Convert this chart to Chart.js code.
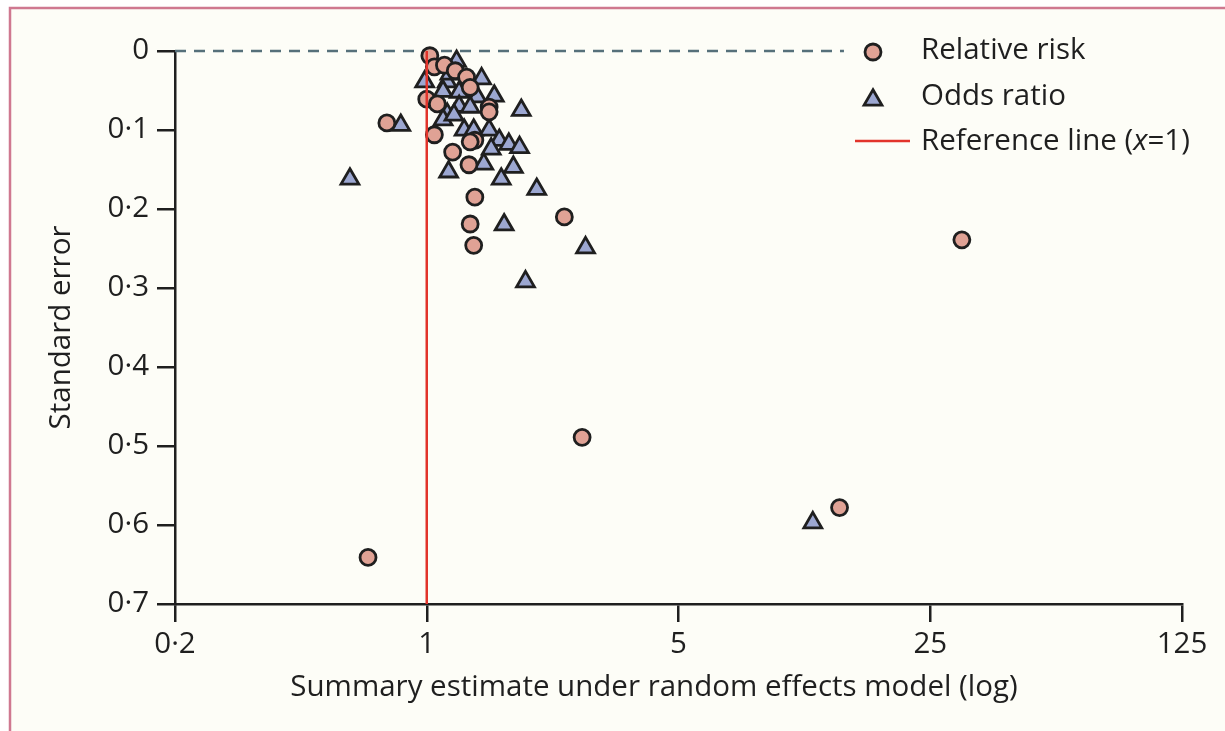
<!DOCTYPE html>
<html>
<head>
<meta charset="utf-8">
<title>Funnel plot</title>
<script src="https://cdn.jsdelivr.net/npm/chart.js@4/dist/chart.umd.min.js"></script>
<style>
  html, body { margin: 0; padding: 0; background: #ffffff; }
  #funnel { display: block; }
</style>
</head>
<body>
<canvas id="funnel" width="1225" height="731"></canvas>
<script>
// Funnel plot: summary estimate (log) vs standard error

// Relative risk studies
const rrEstimate = [1.02, 1.05, 1.12, 1.20, 1.29, 1.32, 1.00, 1.07, 1.49, 1.49, 0.775, 1.05,
  1.36, 1.32, 1.18, 1.31, 1.36, 2.41, 1.32, 1.35, 30.6, 2.70, 14.0, 0.687];
const rrStdError = [0.006, 0.020, 0.018, 0.025, 0.033, 0.046, 0.061, 0.067, 0.071, 0.077, 0.091, 0.106,
  0.113, 0.115, 0.128, 0.144, 0.185, 0.210, 0.219, 0.246, 0.239, 0.489, 0.578, 0.641];

// Odds ratio studies
const orEstimate = [1.21, 0.987, 1.14, 1.42, 1.11, 1.23, 1.38, 1.54, 1.23, 1.32, 1.83, 1.14,
  1.11, 1.19, 0.847, 1.27, 1.35, 1.49, 1.59, 1.69, 1.81, 1.51, 1.44, 1.74,
  1.15, 1.61, 2.02, 0.612, 1.64, 2.76, 1.88, 11.8, 1.16];
const orStdError = [0.013, 0.039, 0.039, 0.035, 0.051, 0.052, 0.058, 0.057, 0.070, 0.071, 0.075, 0.080,
  0.087, 0.081, 0.094, 0.100, 0.100, 0.100, 0.113, 0.118, 0.122, 0.124, 0.143, 0.147,
  0.153, 0.162, 0.175, 0.162, 0.220, 0.249, 0.292, 0.597, 0.029];

const xTicks = [0.2, 1, 5, 25, 125];
const yTicks = [0, 0.1, 0.2, 0.3, 0.4, 0.5, 0.6, 0.7];
const refX = 1;
const dashEnd = 14.4;

const INK = '#1f1f1f';
const RR_FILL = '#e0a295';
const OR_FILL = '#9ca7d1';
const RED = '#e2342b';
const FONT = '"Open Sans", "Noto Sans", sans-serif';
const FONT_SIZE = 29.5;
const CIRCLE_R = 8;
const TRI_R = 10.3;
const MARK_W = 2.8;

function fmt(v) {
  if (v === 0) return '0';
  return String(Math.round(v * 10) / 10).replace('.', '·');
}

const zip = (xs, ys) => xs.map((x, i) => ({ x, y: ys[i] }));

// background + pink frame
const framePlugin = {
  id: 'frame',
  beforeDraw(chart) {
    const ctx = chart.ctx;
    ctx.save();
    ctx.fillStyle = '#ffffff';
    ctx.fillRect(0, 0, chart.width, chart.height);
    ctx.fillStyle = '#fdfdf7';
    ctx.fillRect(10, 8, chart.width, chart.height);
    ctx.strokeStyle = '#cf7890';
    ctx.lineWidth = 2.5;
    ctx.beginPath();
    ctx.moveTo(10, chart.height + 5);
    ctx.lineTo(10, 8);
    ctx.lineTo(chart.width + 5, 8);
    ctx.stroke();
    ctx.restore();
  }
};

// legend and x axis title
const overlayPlugin = {
  id: 'overlay',
  afterDraw(chart) {
    const ctx = chart.ctx;
    const h = Chart.helpers;
    ctx.save();
    ctx.strokeStyle = INK;
    ctx.lineWidth = MARK_W;
    ctx.fillStyle = RR_FILL;
    h.drawPoint(ctx, { pointStyle: 'circle', radius: CIRCLE_R, borderWidth: MARK_W }, 873, 52);
    ctx.fillStyle = OR_FILL;
    h.drawPoint(ctx, { pointStyle: 'triangle', radius: TRI_R, borderWidth: MARK_W }, 873, 100);
    ctx.strokeStyle = RED;
    ctx.lineWidth = 2.5;
    ctx.beginPath(); ctx.moveTo(855, 141); ctx.lineTo(910, 141); ctx.stroke();

    const font = FONT_SIZE + 'px ' + FONT;
    ctx.fillStyle = INK;
    ctx.textBaseline = 'middle';
    ctx.textAlign = 'left';
    ctx.font = font;
    ctx.fillText('Relative risk', 921, 51);
    ctx.fillText('Odds ratio', 921, 97);
    let x = 921;
    const a = 'Reference line (';
    ctx.fillText(a, x, 142); x += ctx.measureText(a).width;
    ctx.font = 'italic ' + font;
    ctx.fillText('x', x, 142); x += ctx.measureText('x').width;
    ctx.font = font;
    ctx.fillText('=1)', x, 142);

    ctx.textAlign = 'center';
    ctx.fillText('Summary estimate under random effects model (log)', 654, 688);
    ctx.restore();
  }
};

new Chart(document.getElementById('funnel'), {
  type: 'scatter',
  data: {
    datasets: [
      {
        label: 'Reference line (x=1)',
        type: 'line',
        data: [{ x: refX, y: 0 }, { x: refX, y: 0.7 }],
        borderColor: RED, borderWidth: 2.5, pointRadius: 0,
        clip: false, order: 0
      },
      {
        label: 'Relative risk',
        data: zip(rrEstimate, rrStdError),
        pointStyle: 'circle', pointRadius: CIRCLE_R, borderWidth: MARK_W,
        backgroundColor: RR_FILL, borderColor: INK,
        clip: false, order: 1
      },
      {
        label: 'Odds ratio',
        data: zip(orEstimate, orStdError),
        pointStyle: 'triangle', pointRadius: TRI_R, borderWidth: MARK_W,
        backgroundColor: OR_FILL, borderColor: INK,
        clip: false, order: 2
      },
      {
        label: 'zero',
        type: 'line',
        data: [{ x: 0.2, y: 0 }, { x: dashEnd, y: 0 }],
        borderColor: '#56707a', borderWidth: 2.5, borderDash: [11, 8], pointRadius: 0,
        clip: false, order: 3
      }
    ]
  },
  plugins: [framePlugin, overlayPlugin],
  options: {
    responsive: false,
    animation: false,
    layout: { padding: { left: 0, top: 51, right: 43, bottom: 0 } },
    plugins: { legend: { display: false }, tooltip: { enabled: false } },
    scales: {
      x: {
        type: 'logarithmic',
        min: 0.2, max: 125,
        afterBuildTicks: s => { s.ticks = xTicks.map(v => ({ value: v })); },
        afterFit: s => { s.height = 127; },
        border: { color: INK, width: 2.5 },
        grid: { drawOnChartArea: false, drawTicks: true, tickLength: 18, color: INK, lineWidth: 2.5 },
        ticks: { autoSkip: false, maxRotation: 0, padding: 5, color: INK,
          font: { family: FONT, size: FONT_SIZE }, callback: v => fmt(v) }
      },
      y: {
        type: 'linear',
        reverse: true,
        min: 0, max: 0.7,
        afterBuildTicks: s => { s.ticks = yTicks.map(v => ({ value: v })); },
        afterFit: s => { s.width = 175; },
        border: { color: INK, width: 2.5 },
        grid: { drawOnChartArea: false, drawTicks: true, tickLength: 18, color: INK, lineWidth: 2.5 },
        ticks: { autoSkip: false, padding: 8, color: INK,
          font: { family: FONT, size: FONT_SIZE }, callback: v => fmt(v) },
        title: { display: true, text: 'Standard error', color: INK,
          font: { family: FONT, size: FONT_SIZE }, padding: { top: 44, bottom: 0 } }
      }
    }
  }
});
</script>
</body>
</html>
